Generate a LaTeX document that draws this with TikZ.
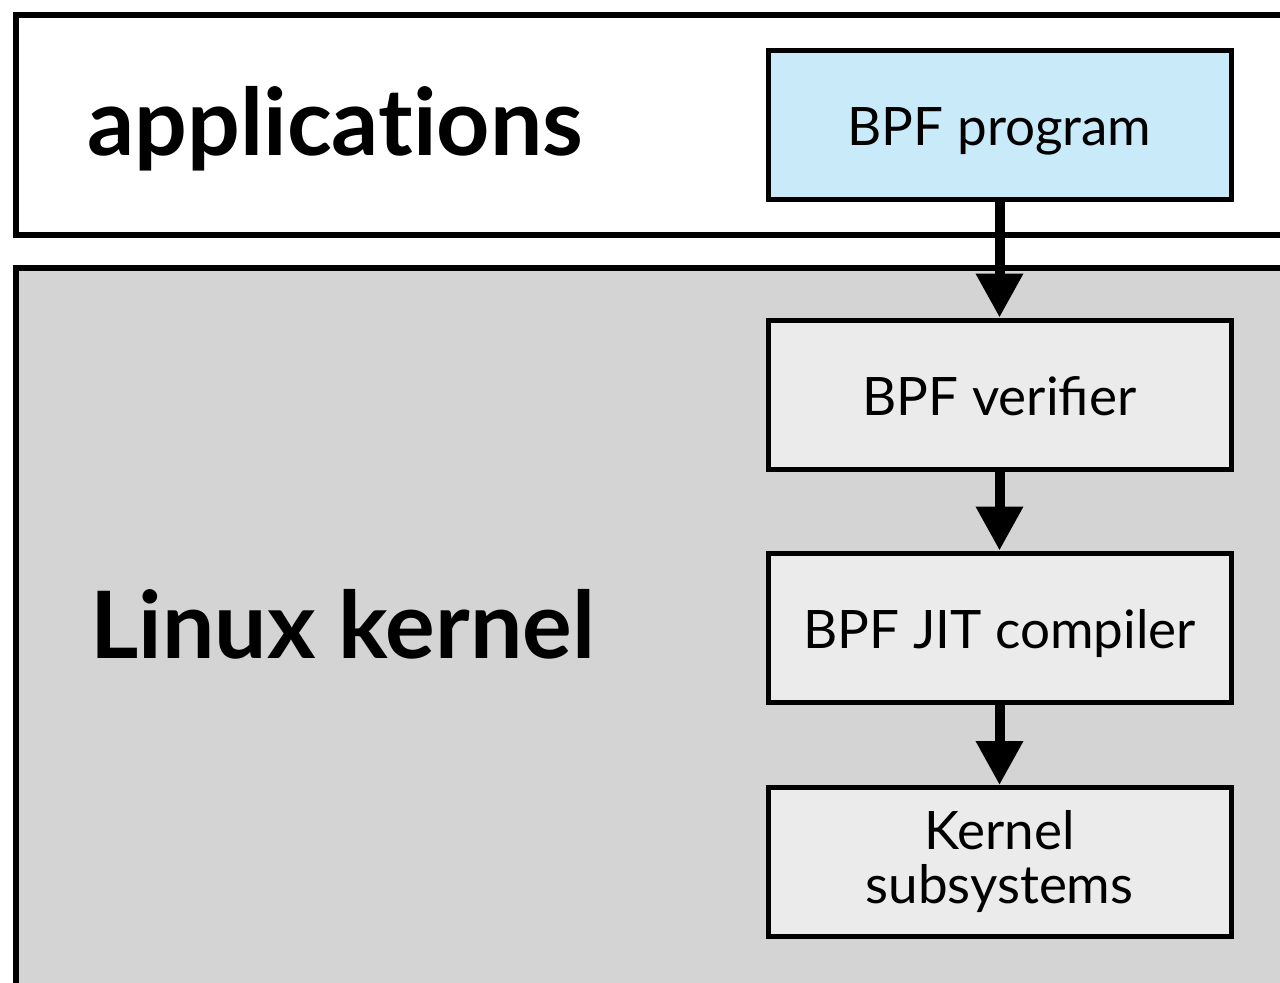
\documentclass[tikz,border=0pt]{standalone}
\usepackage{fontspec}
\setmainfont{Lato}
\usetikzlibrary{arrows.meta}
\definecolor{progblue}{HTML}{C8EAF9}
\definecolor{kernelgray}{HTML}{D4D4D4}
\definecolor{stagegray}{HTML}{EBEBEB}

\begin{document}
\begin{tikzpicture}[x=0.5pt,y=-0.5pt,
    layer/.style={draw=black, line width=2.8pt},
    stage/.style={draw=black, line width=2.5pt, fill=stagegray, minimum width=231.5pt, minimum height=74.5pt, inner sep=0pt, align=center, font=\fontsize{26.5}{27}\selectfont},
    oneline/.style={text height=24pt, text depth=3.5pt},
    flow/.style={line width=5pt, -{Triangle[length=22pt,width=22.5pt]}},
    title/.style={anchor=base west, inner sep=0pt, font=\fontsize{46.5}{52}\selectfont\bfseries}]
    \useasboundingbox (0,0) rectangle (1280,982);
    \clip (0,0) rectangle (1280,982);
    % the two layers
    \draw[layer, fill=white] (16,15) rectangle (1300,235);
    \draw[layer, fill=kernelgray] (16,268) rectangle (1300,1010);
    \node[title] (apps) at (87,155) {applicat\kern0pt ions};
    \node[title] (kernel) at (90,658) {Linux kernel};
    % the stages
    \node[stage, oneline, fill=progblue] (prog) at (999.5,124.5) {BPF program};
    \node[stage, oneline] (verifier) at (999.5,394.5) {BPF verifier};
    \node[stage, oneline] (jit) at (999.5,627.5) {BPF JIT compiler};
    \node[stage] (subsys) at (999.5,862) {Kernel\\subsystems};
    \draw[flow] (prog) -- (verifier);
    \draw[flow] (verifier) -- (jit);
    \draw[flow] (jit) -- (subsys);
\end{tikzpicture}
\end{document}
